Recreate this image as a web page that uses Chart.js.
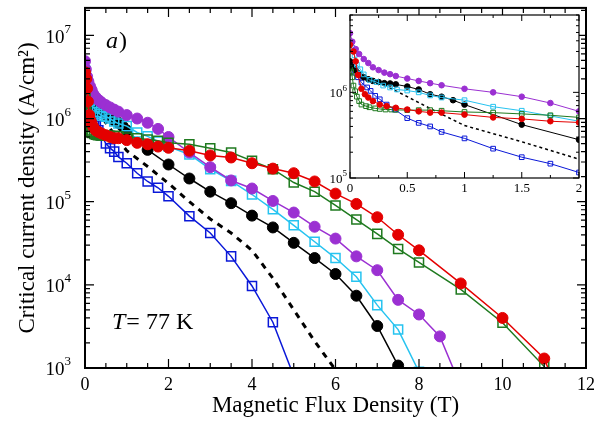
<!DOCTYPE html>
<html>
<head>
<meta charset="utf-8">
<script src="https://cdn.jsdelivr.net/npm/chart.js@4.4.0/dist/chart.umd.min.js"></script>
<style>
  html, body { margin: 0; padding: 0; background: #fff; }
  #wrap { position: relative; width: 601px; height: 424px; }
  #main { position: absolute; left: 0; top: 0; }
  #inset { position: absolute; left: 300px; top: 8px; }
</style>
</head>
<body>
<div id="wrap">
  <canvas id="main" width="601" height="424"></canvas>
  <canvas id="inset" width="295" height="200"></canvas>
</div>
<script>
// Field (T) and critical current density (A/cm2)
const fieldRed = [0, 0.03, 0.05, 0.07, 0.1, 0.13, 0.16, 0.2, 0.26, 0.32, 0.4, 0.5, 0.6, 0.7, 0.8, 1.0, 1.25, 1.5, 1.75, 2.0, 2.5, 3.0, 3.5, 4.0, 4.5, 5.0, 5.5, 6.0, 6.5, 7.0, 7.5, 8.0, 9.0, 10.0, 11.0, 11.5];
const jcRed = [3.6e6, 3.0e6, 2.3e6, 1.6e6, 1.1e6, 9.5e5, 8.7e5, 7.9e5, 7.2e5, 6.9e5, 6.6e5, 6.3e5, 6.0e5, 5.8e5, 5.8e5, 5.5e5, 5.1e5, 4.9e5, 4.6e5, 4.45e5, 4.1e5, 3.6e5, 3.4e5, 2.9e5, 2.5e5, 2.2e5, 1.75e5, 1.25e5, 9.4e4, 6.5e4, 4.0e4, 2.6e4, 1.04e4, 4.0e3, 1.3e3, 3.0e2];

const fieldPurple = [0, 0.02, 0.05, 0.08, 0.12, 0.16, 0.2, 0.25, 0.3, 0.35, 0.4, 0.5, 0.6, 0.7, 0.8, 1.0, 1.25, 1.5, 1.75, 2.0, 2.5, 3.0, 3.5, 4.0, 4.5, 5.0, 5.5, 6.0, 6.5, 7.0, 7.5, 8.0, 8.5, 9.0];
const jcPurple = [4.9e6, 3.9e6, 3.2e6, 2.8e6, 2.45e6, 2.2e6, 1.96e6, 1.82e6, 1.7e6, 1.63e6, 1.55e6, 1.45e6, 1.36e6, 1.28e6, 1.21e6, 1.1e6, 1.0e6, 8.9e5, 7.5e5, 6.0e5, 3.9e5, 2.6e5, 1.8e5, 1.44e5, 1.02e5, 7.4e4, 5.0e4, 3.6e4, 2.2e4, 1.5e4, 6.6e3, 4.4e3, 2.4e3, 6.0e2];

const fieldBlack = [0, 0.02, 0.05, 0.08, 0.12, 0.16, 0.2, 0.25, 0.3, 0.35, 0.4, 0.5, 0.6, 0.7, 0.8, 0.9, 1.0, 1.5, 2.0, 2.5, 3.0, 3.5, 4.0, 4.5, 5.0, 5.5, 6.0, 6.5, 7.0, 7.5];
const jcBlack = [2.3e6, 2.0e6, 1.8e6, 1.62e6, 1.5e6, 1.42e6, 1.36e6, 1.32e6, 1.28e6, 1.27e6, 1.24e6, 1.17e6, 1.08e6, 9.5e5, 8.9e5, 8.1e5, 7.2e5, 4.2e5, 2.8e5, 1.9e5, 1.32e5, 9.6e4, 6.8e4, 4.9e4, 3.2e4, 2.1e4, 1.35e4, 7.4e3, 3.2e3, 1.07e3];

const fieldCyan = [0, 0.02, 0.04, 0.06, 0.09, 0.12, 0.17, 0.23, 0.29, 0.35, 0.41, 0.5, 0.6, 0.7, 0.8, 1.0, 1.25, 1.5, 1.75, 2.0, 2.5, 3.0, 3.5, 4.0, 4.5, 5.0, 5.5, 6.0, 6.5, 7.0, 7.5, 8.0];
const jcCyan = [3.8e6, 3.3e6, 2.7e6, 2.1e6, 1.86e6, 1.62e6, 1.4e6, 1.32e6, 1.2e6, 1.14e6, 1.08e6, 1.05e6, 1.0e6, 9.2e5, 8.7e5, 8.1e5, 6.8e5, 6.1e5, 5.3e5, 4.6e5, 3.7e5, 2.46e5, 1.78e5, 1.22e5, 8.1e4, 5.2e4, 3.3e4, 2.1e4, 1.25e4, 5.7e3, 2.9e3, 9.0e2];

const fieldGreen = [0, 0.01, 0.02, 0.03, 0.045, 0.06, 0.08, 0.1, 0.14, 0.17, 0.22, 0.26, 0.31, 0.36, 0.4, 0.5, 0.6, 0.7, 0.8, 1.0, 1.25, 1.5, 1.75, 2.0, 2.5, 3.0, 3.5, 4.0, 4.5, 5.0, 5.5, 6.0, 6.5, 7.0, 7.5, 8.0, 9.0, 10.0, 11.0, 11.5];
const jcGreen = [1.9e6, 1.75e6, 1.5e6, 1.2e6, 1.03e6, 8.9e5, 7.9e5, 7.2e5, 6.9e5, 6.7e5, 6.5e5, 6.4e5, 6.3e5, 6.3e5, 6.25e5, 6.2e5, 6.2e5, 6.2e5, 6.1e5, 5.9e5, 5.8e5, 5.6e5, 5.4e5, 5.1e5, 4.9e5, 4.4e5, 3.9e5, 3.1e5, 2.46e5, 1.7e5, 1.32e5, 9.0e4, 6.1e4, 4.1e4, 2.7e4, 1.86e4, 8.8e3, 3.5e3, 1.04e3, 2.5e2];

const fieldBlue = [0, 0.02, 0.04, 0.07, 0.1, 0.15, 0.18, 0.22, 0.26, 0.32, 0.39, 0.5, 0.6, 0.7, 0.8, 1.0, 1.25, 1.5, 1.75, 2.0, 2.5, 3.0, 3.5, 4.0, 4.5, 5.0];
const jcBlue = [2.2e6, 1.95e6, 1.7e6, 1.5e6, 1.3e6, 1.14e6, 1.04e6, 9.1e5, 8.3e5, 7.2e5, 6.3e5, 5.0e5, 4.4e5, 4.0e5, 3.45e5, 2.9e5, 2.2e5, 1.75e5, 1.47e5, 1.16e5, 6.7e4, 4.2e4, 2.2e4, 9.7e3, 3.55e3, 8.0e2];

const fieldDashed = [0, 0.1, 0.25, 0.5, 0.75, 1.0, 1.5, 2.0, 2.5, 3.0, 3.5, 4.0, 4.5, 5.0, 5.5, 6.0, 6.3];
const jcDashed = [2.3e6, 1.66e6, 1.32e6, 8.9e5, 6.0e5, 4.1e5, 2.65e5, 1.66e5, 1.0e5, 6.2e4, 4.2e4, 2.6e4, 1.2e4, 5.0e3, 2.1e3, 9.5e2, 5.0e2];

// Tick labels
const mainPowers = [3, 4, 5, 6, 7];
const insetPowers = [5, 6];

const SERIF = "'Liberation Serif', 'Times New Roman', serif";

// colour + marker kind per series (drawing order: first on top)
const seriesList = [
  { field: fieldRed, jc: jcRed, color: '#e40000', marker: 'circle' },
  { field: fieldGreen, jc: jcGreen, color: '#1f7a1f', marker: 'square' },
  { field: fieldPurple, jc: jcPurple, color: '#9b30d2', marker: 'circle' },
  { field: fieldCyan, jc: jcCyan, color: '#26c3f0', marker: 'square' },
  { field: fieldBlack, jc: jcBlack, color: '#000000', marker: 'circle' },
  { field: fieldBlue, jc: jcBlue, color: '#0a18d8', marker: 'square' },
  { field: fieldDashed, jc: jcDashed, color: '#000000', marker: 'none' }
];

function buildDatasets(sz) {
  return seriesList.map(s => {
    const ds = {
      data: s.field.map((b, i) => ({ x: b, y: s.jc[i] })),
      showLine: true,
      borderColor: s.color,
      borderWidth: sz.line,
      tension: 0
    };
    if (s.marker === 'circle') {
      Object.assign(ds, { pointStyle: 'circle', pointRadius: sz.circle, backgroundColor: s.color,
        pointBorderColor: s.color, pointBorderWidth: 1 });
    } else if (s.marker === 'square') {
      Object.assign(ds, { pointStyle: 'rect', pointRadius: sz.square, backgroundColor: 'rgba(0,0,0,0)',
        pointBackgroundColor: 'rgba(0,0,0,0)', pointBorderColor: s.color, pointBorderWidth: sz.sqBorder });
    } else {
      Object.assign(ds, { pointRadius: 0, borderDash: sz.dash, borderWidth: sz.dashWidth });
    }
    return ds;
  });
}

// Inward ticks on all four sides plus the frame
function frameTicks(opt) {
  return {
    id: 'frameTicks',
    beforeDraw(chart) {
      if (!opt.fill) return;
      const a = chart.chartArea, ctx = chart.ctx;
      ctx.save();
      ctx.fillStyle = '#fff';
      ctx.fillRect(a.left, a.top, a.width, a.height);
      ctx.restore();
    },
    afterDraw(chart) {
      const { ctx, chartArea: a, scales: { x, y } } = chart;
      ctx.save();
      ctx.strokeStyle = '#000';
      ctx.lineWidth = opt.tickWidth;
      ctx.beginPath();
      const n = Math.round((x.max - x.min) / opt.xMinor);
      for (let i = 0; i <= n; i++) {
        const v = x.min + i * opt.xMinor;
        const px = x.getPixelForValue(v);
        const r = v / opt.xMajor;
        const len = Math.abs(r - Math.round(r)) < 1e-6 ? opt.majorLen : opt.minorLen;
        ctx.moveTo(px, a.bottom); ctx.lineTo(px, a.bottom - len);
        ctx.moveTo(px, a.top); ctx.lineTo(px, a.top + len);
      }
      const e0 = Math.floor(Math.log10(y.min)), e1 = Math.ceil(Math.log10(y.max));
      for (let e = e0; e <= e1; e++) {
        for (let m = 1; m <= 9; m++) {
          const v = m * Math.pow(10, e);
          if (v < y.min * 0.999 || v > y.max * 1.001) continue;
          const py = y.getPixelForValue(v);
          const len = m === 1 ? opt.majorLen : opt.minorLen;
          ctx.moveTo(a.left, py); ctx.lineTo(a.left + len, py);
          ctx.moveTo(a.right, py); ctx.lineTo(a.right - len, py);
        }
      }
      ctx.stroke();
      ctx.lineWidth = opt.frameWidth;
      ctx.strokeRect(a.left, a.top, a.width, a.height);

      // decade labels 10^n
      ctx.fillStyle = '#000';
      ctx.textBaseline = 'middle';
      ctx.textAlign = 'left';
      opt.powers.forEach(p => {
        const py = y.getPixelForValue(Math.pow(10, p));
        ctx.font = opt.labelSize + 'px ' + SERIF;
        const w1 = ctx.measureText('10').width;
        ctx.font = opt.supSize + 'px ' + SERIF;
        const w2 = ctx.measureText(String(p)).width;
        const xEnd = a.left - opt.labelPad;
        ctx.font = opt.labelSize + 'px ' + SERIF;
        ctx.fillText('10', xEnd - w1 - w2, py + opt.labelSize * 0.12);
        ctx.font = opt.supSize + 'px ' + SERIF;
        ctx.fillText(String(p), xEnd - w2, py - opt.labelSize * 0.32);
      });
      ctx.restore();
    }
  };
}

const notes = {
  id: 'notes',
  afterDraw(chart) {
    const ctx = chart.ctx;
    ctx.save();
    ctx.fillStyle = '#000';
    ctx.textBaseline = 'middle';
    ctx.textAlign = 'left';
    ctx.font = 'italic 24px ' + SERIF;
    ctx.fillText('a', 106, 42);
    const wa = ctx.measureText('a').width;
    ctx.font = '24px ' + SERIF;
    ctx.fillText(')', 106 + wa + 1, 42);
    ctx.font = 'italic 24px ' + SERIF;
    ctx.fillText('T', 112, 323);
    const wt = ctx.measureText('T').width;
    ctx.font = '24px ' + SERIF;
    ctx.fillText('= 77 K', 112 + wt + 1, 323);
    ctx.restore();
  }
};

new Chart(document.getElementById('main'), {
  type: 'scatter',
  data: { datasets: buildDatasets({ line: 1.5, circle: 5.5, square: 6.4, sqBorder: 1.5, dash: [6, 6], dashWidth: 3 }) },
  options: {
    responsive: false,
    animation: false,
    layout: { padding: { top: 6, right: 12, bottom: 0, left: 0 } },
    plugins: { legend: { display: false }, tooltip: { enabled: false } },
    scales: {
      x: {
        type: 'linear', min: 0, max: 12,
        border: { display: false },
        grid: { display: false, drawTicks: false },
        ticks: { stepSize: 2, padding: 6, color: '#000', maxRotation: 0, font: { family: SERIF, size: 18 } },
        title: { display: true, text: 'Magnetic Flux Density (T)', color: '#000',
          font: { family: SERIF, size: 23 }, padding: { top: 0, bottom: 4 } },
        afterFit: s => { s.height = 56; }
      },
      y: {
        type: 'logarithmic', min: 1e3, max: 2.14e7,
        border: { display: false },
        grid: { display: false, drawTicks: false },
        ticks: { display: false },
        title: { display: true, text: 'Critical current density (A/cm²)', color: '#000',
          font: { family: SERIF, size: 23 }, padding: { top: 14, bottom: 0 } },
        afterFit: s => { s.width = 85; }
      }
    }
  },
  plugins: [frameTicks({ fill: false, xMinor: 0.5, xMajor: 2, majorLen: 9, minorLen: 5, tickWidth: 1.2,
    frameWidth: 2, powers: mainPowers, labelSize: 19, supSize: 13, labelPad: 14 }), notes]
});

new Chart(document.getElementById('inset'), {
  type: 'scatter',
  data: { datasets: buildDatasets({ line: 1, circle: 2.8, square: 3.3, sqBorder: 1, dash: [3, 3], dashWidth: 1.5 }) },
  options: {
    responsive: false,
    animation: false,
    layout: { padding: { top: 7, right: 16, bottom: 0, left: 0 } },
    plugins: { legend: { display: false }, tooltip: { enabled: false } },
    scales: {
      x: {
        type: 'linear', min: 0, max: 2,
        border: { display: false },
        grid: { display: false, drawTicks: false },
        ticks: { stepSize: 0.5, padding: 3, color: '#000', maxRotation: 0, font: { family: SERIF, size: 13 },
          callback: v => String(v) },
        afterFit: s => { s.height = 30; }
      },
      y: {
        type: 'logarithmic', min: 1e5, max: 8e6,
        border: { display: false },
        grid: { display: false, drawTicks: false },
        ticks: { display: false },
        afterFit: s => { s.width = 50; }
      }
    }
  },
  plugins: [frameTicks({ fill: true, xMinor: 0.25, xMajor: 0.5, majorLen: 6, minorLen: 3, tickWidth: 1,
    frameWidth: 1.2, powers: insetPowers, labelSize: 13, supSize: 9, labelPad: 3 })]
});
</script>
</body>
</html>
